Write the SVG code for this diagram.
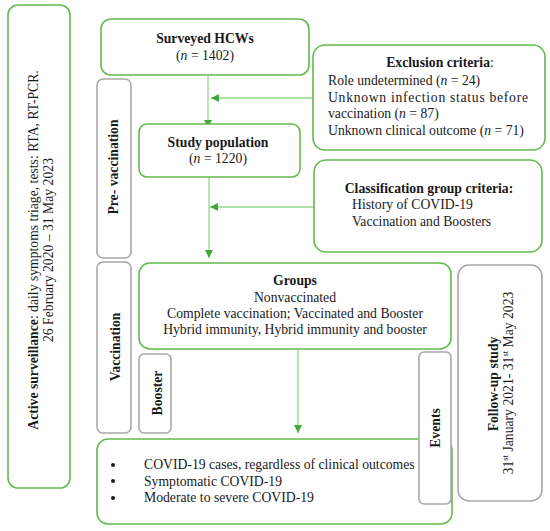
<svg xmlns="http://www.w3.org/2000/svg" width="550" height="531" viewBox="0 0 550 531">
<style>
text{font-family:"Liberation Serif","Times New Roman",serif;font-size:13.7px;fill:#1a1a1a}
.b{font-weight:bold}
.i{font-style:italic}
.g{fill:#fff;stroke:#63bb4e;stroke-width:1.6}
.gr{fill:#fff;stroke:#a8a8a8;stroke-width:1.6}
.c{stroke:#96d68c;stroke-width:1.3;fill:none}
.m{text-anchor:middle}
</style>
<defs>
<marker id="ah" viewBox="0 0 10 10" refX="10" refY="5" markerWidth="8" markerHeight="8" markerUnits="userSpaceOnUse" orient="auto">
<path d="M0,0L10,5L0,10z" fill="#3fa93a"/>
</marker>
</defs>
<rect width="550" height="531" fill="#fff"/>
<g id="connectors">
<line class="c" x1="208" y1="75" x2="208" y2="128" marker-end="url(#ah)"/>
<line class="c" x1="314" y1="98" x2="211" y2="98" marker-end="url(#ah)"/>
<line class="c" x1="209" y1="177" x2="209" y2="258" marker-end="url(#ah)"/>
<line class="c" x1="315" y1="207" x2="210" y2="207" marker-end="url(#ah)"/>
<line class="c" x1="298" y1="349" x2="298" y2="433" marker-end="url(#ah)"/>
</g>
<g id="surveillance">
<rect class="g" x="8" y="5" width="62" height="483" rx="10"/>
<text class="m" transform="translate(37.5,250) rotate(-90)"><tspan class="b">Active surveillance</tspan>: daily symptoms triage, tests: RTA, RT-PCR.<tspan x="0" y="15">26 February 2020 – 31 May 2023</tspan></text>
</g>
<g id="prevaccination">
<rect class="gr" x="97" y="79" width="34" height="179" rx="6"/>
<text class="m b" transform="translate(118,167) rotate(-90)">Pre- vaccination</text>
</g>
<g id="vaccination">
<rect class="gr" x="97" y="262" width="34" height="171" rx="6"/>
<text class="m b" transform="translate(119.5,347) rotate(-90)">Vaccination</text>
</g>
<g id="surveyed">
<rect class="g" x="101" y="19" width="208" height="56" rx="10"/>
<text class="m b" x="205" y="43">Surveyed HCWs</text>
<text class="m" x="205" y="60">(<tspan class="i">n</tspan> = 1402)</text>
</g>
<g id="exclusion">
<rect class="g" x="313" y="45" width="232" height="105" rx="12"/>
<text class="m b" x="440" y="67">Exclusion criteria<tspan font-weight="normal">:</tspan></text>
<text x="328" y="85">Role undetermined (<tspan class="i">n</tspan> = 24)</text>
<text x="328" y="102" textLength="200" lengthAdjust="spacing">Unknown infection status before</text>
<text x="328" y="118">vaccination (<tspan class="i">n</tspan> = 87)</text>
<text x="328" y="135">Unknown clinical outcome (<tspan class="i">n</tspan> = 71)</text>
</g>
<g id="studypop">
<rect class="g" x="139" y="124" width="161" height="53" rx="8"/>
<text class="m b" x="218" y="147">Study population</text>
<text class="m" x="218" y="163">(<tspan class="i">n</tspan> = 1220)</text>
</g>
<g id="classification">
<rect class="g" x="314" y="160" width="228" height="92" rx="12"/>
<text class="m b" x="429" y="193">Classification group criteria:</text>
<text x="352" y="209">History of COVID-19</text>
<text x="352" y="226">Vaccination and Boosters</text>
</g>
<g id="groups">
<rect class="g" x="139" y="263" width="312" height="86" rx="11"/>
<text class="m b" x="295" y="285">Groups</text>
<text class="m" x="295" y="302">Nonvaccinated</text>
<text class="m" x="295" y="318">Complete vaccination; Vaccinated and Booster</text>
<text class="m" x="295" y="334">Hybrid immunity, Hybrid immunity and booster</text>
</g>
<g id="booster">
<rect class="gr" x="139" y="354" width="32" height="79" rx="5"/>
<text class="m b" transform="translate(161.5,393) rotate(-90)">Booster</text>
</g>
<g id="outcomes">
<rect class="g" x="97" y="439" width="355" height="85" rx="11"/>
<circle cx="113" cy="465" r="2" fill="#1a1a1a"/>
<circle cx="113" cy="481" r="2" fill="#1a1a1a"/>
<circle cx="113" cy="498" r="2" fill="#1a1a1a"/>
<text x="144" y="469">COVID-19 cases, regardless of clinical outcomes</text>
<text x="144" y="486">Symptomatic COVID-19</text>
<text x="144" y="502">Moderate to severe COVID-19</text>
</g>
<g id="events">
<rect class="gr" x="419" y="352" width="32" height="152" rx="5"/>
<text class="m b" transform="translate(439.5,428) rotate(-90)">Events</text>
</g>
<g id="followup">
<rect class="gr" x="458" y="265" width="84" height="236" rx="11"/>
<text class="m b" transform="translate(497.5,384) rotate(-90)">Follow-up study</text>
<text class="m" transform="translate(512.5,383) rotate(-90)">31<tspan font-size="8.5" dy="-5">st</tspan><tspan dy="5"> January 2021- 31</tspan><tspan font-size="8.5" dy="-5">st</tspan><tspan dy="5"> May 2023</tspan></text>
</g>
</svg>
